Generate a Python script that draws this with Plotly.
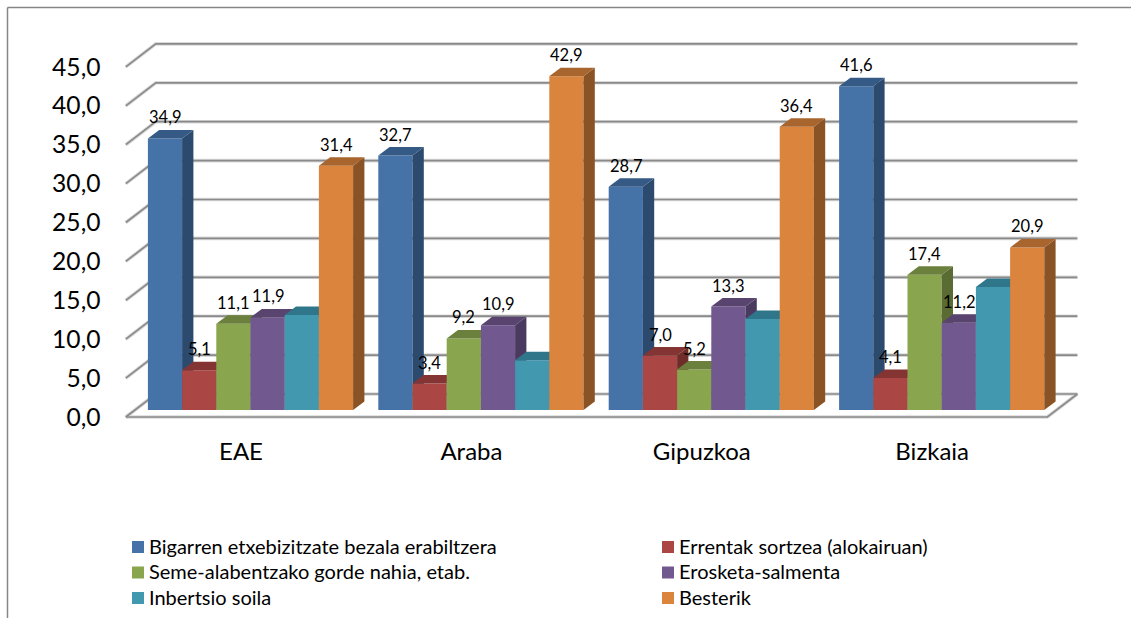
import plotly.graph_objects as go

categories = ["EAE", "Araba", "Gipuzkoa", "Bizkaia"]
series_names = ["Bigarren etxebizitzate bezala erabiltzera", "Errentak sortzea (alokairuan)",
                "Seme-alabentzako gorde nahia, etab.", "Erosketa-salmenta", "Inbertsio soila", "Besterik"]
bigarren = [34.9, 32.7, 28.7, 41.6]
errentak = [5.1, 3.4, 7.0, 4.1]
seme = [11.1, 9.2, 5.2, 17.4]
erosketa = [11.9, 10.9, 13.3, 11.2]
inbertsio = [12.2, 6.4, 11.7, 15.8]
besterik = [31.4, 42.9, 36.4, 20.9]
y_ticks = [0, 5, 10, 15, 20, 25, 30, 35, 40, 45]

all_values = [bigarren, errentak, seme, erosketa, inbertsio, besterik]
labelled = [True, True, True, True, False, True]
front_col = ["#4572A7", "#AA4643", "#89A54E", "#71588F", "#4198AF", "#DB843D"]
top_col = ["#355A85", "#843433", "#6B803C", "#59436F", "#30768A", "#A9652E"]
side_col = ["#2C4A6E", "#6E2D2B", "#5A6B33", "#4B3A60", "#2A6475", "#8A5325"]

W, H = 1131, 618
PX_X = 230.4          # px per category
PX_Y = 7.78           # px per value unit
FRONT_X0, FRONT_Y0 = 241, 417    # front plane: category 0 / value 0
BAR_X0, BAR_Y0 = 250.5, 410      # plane of the bar fronts
bar_w = 34.2 / PX_X
depth_x, depth_y = 11.3 / PX_X, 8.5 / PX_Y
wall_x, wall_y = 30 / PX_X, 23 / PX_Y


def xr(x0):
    return [-x0 / PX_X, (W - x0) / PX_X]


def yr(y0):
    return [(y0 - H) / PX_Y, y0 / PX_Y]


fig = go.Figure()

# wall and floor lines
gx, gy = [], []
for v in y_ticks:
    gx += [-0.5, -0.5 + wall_x, 3.5 + wall_x, None]
    gy += [v, v + wall_y, v + wall_y, None]
gx += [-0.5, 3.5, 3.5 + wall_x]
gy += [0, 0, wall_y]
for color, width in [("#DADADA", 3.6), ("#8A8A8A", 1.7)]:
    fig.add_trace(go.Scatter(x=gx, y=gy, mode="lines", line=dict(color=color, width=width),
                             showlegend=False, hoverinfo="skip", xaxis="x", yaxis="y"))

annotations = []
for s, vals in enumerate(all_values):
    ya = f"y{s + 2}"
    xs = [g + (s - 2.5) * bar_w for g in range(len(categories))]
    sx, sy, tx, ty = [], [], [], []
    for x, v in zip(xs, vals):
        l, r = x - bar_w / 2, x + bar_w / 2
        sx += [r, r + depth_x, r + depth_x, r, r, None]
        sy += [0, depth_y, v + depth_y, v, 0, None]
        tx += [l, r, r + depth_x, l + depth_x, l, None]
        ty += [v, v, v + depth_y, v + depth_y, v, None]
        if labelled[s]:
            annotations.append(dict(x=x, y=v, xref="x2", yref=ya, yshift=21, showarrow=False,
                                    xanchor="center", yanchor="middle",
                                    text=f"{v:.1f}".replace(".", ","),
                                    font=dict(family="Lato", size=16.5, color="#000")))
    fig.add_trace(go.Bar(x=xs, y=vals, width=bar_w, name=series_names[s], marker=dict(color=front_col[s], line_width=0),
                         xaxis="x2", yaxis=ya, showlegend=False))
    fig.add_trace(go.Scatter(x=sx, y=sy, mode="lines", fill="toself", fillcolor=side_col[s], line=dict(width=0),
                             xaxis="x2", yaxis=ya, showlegend=False, hoverinfo="skip"))
    fig.add_trace(go.Scatter(x=tx, y=ty, mode="lines", fill="toself", fillcolor=top_col[s], line=dict(width=0),
                             xaxis="x2", yaxis=ya, showlegend=False, hoverinfo="skip"))

# legend
shapes = [dict(type="line", xref="paper", yref="paper", x0=7.5 / W, x1=1, y0=1 - 7.5 / H, y1=1 - 7.5 / H,
               line=dict(color="#868686", width=1.5)),
          dict(type="line", xref="paper", yref="paper", x0=7.5 / W, x1=7.5 / W, y0=0, y1=1 - 7.5 / H,
               line=dict(color="#868686", width=1.5))]
rows_px = [547, 572.5, 598]
cols_px = [132, 662]
for s, name in enumerate(series_names):
    cx, cy = cols_px[s % 2], rows_px[s // 2]
    shapes.append(dict(type="rect", xref="paper", yref="paper", x0=cx / W, x1=(cx + 12) / W,
                       y0=1 - (cy + 6) / H, y1=1 - (cy - 6) / H, fillcolor=front_col[s], line_width=0))
    annotations.append(dict(x=(cx + 14.5) / W, y=1 - (cy - 1.5) / H, xref="paper", yref="paper", xanchor="left",
                            yanchor="middle", showarrow=False, text=name,
                            font=dict(family="Lato", size=20, color="#000")))

layout = dict(
    width=W, height=H, margin=dict(l=0, r=0, t=0, b=0), autosize=False,
    paper_bgcolor="white", plot_bgcolor="rgba(0,0,0,0)",
    separators=",.", barmode="overlay", showlegend=False,
    shapes=shapes, annotations=annotations,
    font=dict(family="Lato", color="#000"),
    xaxis=dict(range=xr(FRONT_X0), tickvals=list(range(4)), ticktext=categories, showgrid=False, zeroline=False,
               showline=False, ticks="", anchor="free", position=1 - 434.5 / H,
               tickfont=dict(family="Lato", size=24, color="#000")),
    yaxis=dict(range=yr(FRONT_Y0), tickvals=y_ticks, tickformat=".1f", showgrid=False, zeroline=False,
               showline=False, ticks="", anchor="free", position=100.5 / W,
               tickfont=dict(family="Lato", size=24.6, color="#000")),
    xaxis2=dict(range=xr(BAR_X0), overlaying="x", visible=False),
)
for s in range(len(all_values)):
    layout[f"yaxis{s + 2}"] = dict(range=yr(BAR_Y0), overlaying="y", visible=False)
fig.update_layout(**layout)
fig.write_html("out.html", config={"displayModeBar": False},
               post_script="document.body.style.margin='0';document.body.style.overflow='hidden';")
